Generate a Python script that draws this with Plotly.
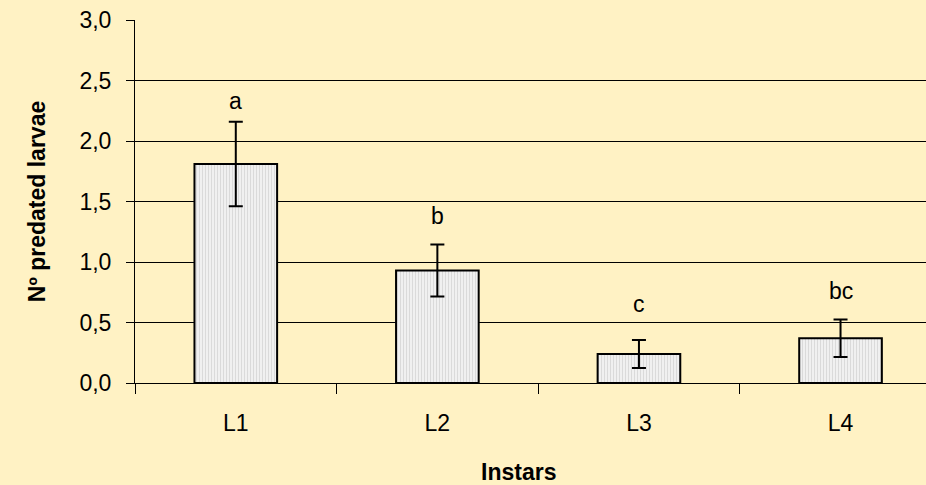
import plotly.graph_objects as go

categories = ["L1", "L2", "L3", "L4"]
means = [1.81, 0.93, 0.24, 0.37]
errors = [0.35, 0.215, 0.115, 0.155]
letters = ["a", "b", "c", "bc"]
letter_y = [2.21, 1.26, 0.53, 0.64]
y_ticks = [0.0, 0.5, 1.0, 1.5, 2.0, 2.5, 3.0]
x_title = "Instars"
y_title = "Nº predated larvae"

BG = "#FFF2C4"
FONT = "Liberation Sans, Arial, sans-serif"
FS = 23

fig = go.Figure()
fig.add_trace(go.Bar(
    x=categories, y=means, width=0.41,
    marker=dict(
        color="#eeeeee",
        line=dict(color="black", width=2),
        pattern=dict(shape="|", fgcolor="#c4c4c4", bgcolor="#f0f0f0", size=3, solidity=0.35),
    ),
    error_y=dict(type="data", array=errors, symmetric=True, color="black", thickness=2, width=7),
    showlegend=False,
))

for c, t, yy in zip(categories, letters, letter_y):
    fig.add_annotation(x=c, y=yy, text=t, showarrow=False, yanchor="bottom",
                       font=dict(size=FS, color="black", family=FONT))

# x-axis title placed below the tick labels
fig.add_annotation(xref="x domain", yref="paper", x=0.485, y=0, yshift=-89,
                   text=f"<b>{x_title}</b>", showarrow=False,
                   xanchor="center", yanchor="middle",
                   font=dict(size=FS, color="black", family=FONT))

fig.update_layout(
    width=926, height=485,
    margin=dict(l=135, r=0, t=20, b=102, autoexpand=False),
    paper_bgcolor=BG, plot_bgcolor=BG,
    separators=",.",
    font=dict(family=FONT, size=FS, color="black"),
)
fig.update_xaxes(
    type="category", range=[-0.5, 3.424],
    showline=True, linecolor="black", linewidth=1,
    ticks="outside", tickson="boundaries", ticklen=10, tickcolor="black",
    ticklabelstandoff=19, showgrid=False,
    automargin=False,
)
fig.update_yaxes(
    range=[0, 3], tickvals=y_ticks, tickformat=".1f",
    showline=True, linecolor="black", linewidth=1,
    ticks="outside", ticklen=8, tickcolor="black",
    ticklabelstandoff=10,
    showgrid=True, gridcolor="black", gridwidth=1,
    zeroline=False,
    title=dict(text=f"<b>{y_title}</b>", font=dict(size=FS), standoff=27),
    automargin=False,
)

fig.write_html(
    "out.html",
    config={"displayModeBar": False},
    post_script="document.body.style.margin='0';document.body.style.overflow='hidden';",
)
